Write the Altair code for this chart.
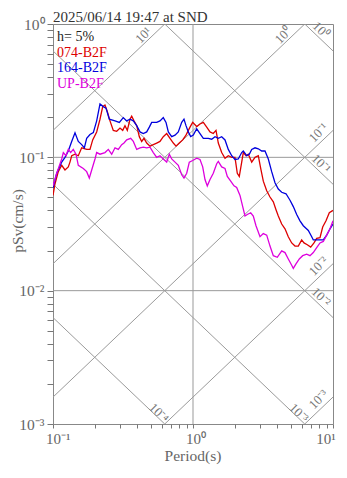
import math
import altair as alt
import pandas as pd

# ---------------- data ----------------
TITLE = "2025/06/14 19:47 at SND"
DAMPING = "h= 5%"
SERIES = ["074-B2F", "164-B2F", "UP-B2F"]
COLORS = ["#dd0000", "#0000dd", "#dd00dd"]

red_T = [0.100, 0.1033, 0.1091, 0.1154, 0.1218, 0.1286, 0.1322, 0.1360, 0.1436, 0.1516,
         0.1603, 0.1740, 0.1837, 0.1921, 0.2051, 0.2166, 0.2265, 0.2351, 0.2442, 0.2553,
         0.2696, 0.2851, 0.3010, 0.3147, 0.3267, 0.3394, 0.3548, 0.3648, 0.3790, 0.3962,
         0.4135, 0.4300, 0.4467, 0.4670, 0.4931, 0.5205, 0.5504, 0.5810, 0.6135, 0.6487,
         0.6851, 0.7234, 0.7561, 0.7982, 0.8442, 0.8913, 0.9519, 0.9951, 1.063, 1.122,
         1.185, 1.253, 1.323, 1.396, 1.460, 1.516, 1.603, 1.693, 1.787, 1.890,
         1.995, 2.072, 2.141, 2.228, 2.287, 2.391, 2.483, 2.626, 2.773, 2.927,
         3.045, 3.178, 3.361, 3.548, 3.747, 3.916, 4.067, 4.301, 4.541, 4.794,
         5.070, 5.354, 5.651, 5.975, 6.207, 6.553, 6.929, 7.316, 7.647, 8.075,
         8.441, 8.913, 9.410, 10.0]
red_Sv = [0.0518, 0.0631, 0.0781, 0.0872, 0.0804, 0.0848, 0.0921, 0.1028, 0.1056, 0.1028,
          0.1179, 0.1147, 0.1147, 0.1351, 0.1551, 0.1931, 0.2402, 0.2471, 0.2213, 0.1877,
          0.1593, 0.1567, 0.1657, 0.1593, 0.1729, 0.1593, 0.1931, 0.2038, 0.1877, 0.1729,
          0.1429, 0.1316, 0.1389, 0.1280, 0.1213, 0.1245, 0.1280, 0.1316, 0.1429, 0.1509,
          0.1389, 0.1280, 0.1213, 0.1280, 0.1351, 0.1467, 0.1684, 0.1829, 0.1701, 0.1778,
          0.1829, 0.1684, 0.1551, 0.1509, 0.1593, 0.1280, 0.1086, 0.0984, 0.1028, 0.1000,
          0.1000, 0.0760, 0.0720, 0.0921, 0.1086, 0.1028, 0.1056, 0.0921, 0.1000, 0.1028,
          0.0825, 0.0663, 0.0562, 0.0504, 0.0464, 0.0405, 0.0363, 0.0316, 0.0291, 0.0254,
          0.0228, 0.0216, 0.0216, 0.0240, 0.0228, 0.0221, 0.0212, 0.0228, 0.0247, 0.0250,
          0.0300, 0.0334, 0.0384, 0.0400]

blue_T = [0.100, 0.1063, 0.1154, 0.1218, 0.1286, 0.1360, 0.1436, 0.1516, 0.1603, 0.1674,
          0.1740, 0.1837, 0.1941, 0.2051, 0.2166, 0.2287, 0.2391, 0.2525, 0.2773, 0.2976,
          0.3178, 0.3361, 0.3548, 0.3747, 0.3962, 0.4182, 0.4416, 0.4670, 0.4875, 0.5070,
          0.5504, 0.5810, 0.6135, 0.6416, 0.6664, 0.7045, 0.7440, 0.7852, 0.8304, 0.8623,
          0.8913, 0.9256, 0.9629, 1.005, 1.063, 1.122, 1.185, 1.286, 1.360, 1.436,
          1.516, 1.603, 1.693, 1.787, 1.890, 1.995, 2.106, 2.228, 2.287, 2.419,
          2.524, 2.626, 2.773, 2.927, 3.095, 3.268, 3.451, 3.648, 3.852, 4.067,
          4.301, 4.617, 4.931, 5.205, 5.504, 5.810, 6.135, 6.664, 7.045, 7.233,
          7.852, 8.524, 9.016, 9.519, 10.0]
blue_Sv = [0.0591, 0.0760, 0.0921, 0.1000, 0.1116, 0.1316, 0.1527, 0.1316, 0.1245, 0.1179,
           0.1389, 0.1484, 0.1534, 0.1877, 0.2512, 0.2402, 0.2340, 0.1931, 0.1877, 0.1829,
           0.1985, 0.1877, 0.1931, 0.1877, 0.1729, 0.1551, 0.1509, 0.1551, 0.1684, 0.1829,
           0.1829, 0.1877, 0.1985, 0.1829, 0.1551, 0.1429, 0.1467, 0.1551, 0.1829, 0.1931,
           0.1729, 0.1551, 0.1429, 0.1467, 0.1638, 0.1509, 0.1389, 0.1389, 0.1367, 0.1429,
           0.1389, 0.1429, 0.1351, 0.1147, 0.1028, 0.0963, 0.0972, 0.1086, 0.1116, 0.1028,
           0.1056, 0.1147, 0.1179, 0.1159, 0.1116, 0.1116, 0.0972, 0.0781, 0.0645, 0.0578,
           0.0547, 0.0533, 0.0477, 0.0427, 0.0373, 0.0334, 0.0307, 0.0283, 0.0254, 0.0240,
           0.0240, 0.0240, 0.0261, 0.0291, 0.0316]

mag_T = [0.100, 0.1063, 0.1154, 0.1185, 0.1238, 0.1286, 0.1337, 0.1396, 0.1460, 0.1516,
         0.1646, 0.1740, 0.1817, 0.1890, 0.1995, 0.2051, 0.2166, 0.2351, 0.2483, 0.2626,
         0.2773, 0.2927, 0.3095, 0.3215, 0.3361, 0.3589, 0.3747, 0.3962, 0.4182, 0.4416,
         0.4670, 0.4931, 0.5205, 0.5504, 0.5810, 0.6135, 0.6487, 0.6773, 0.7045, 0.7440,
         0.7852, 0.8304, 0.8623, 0.9016, 0.9410, 0.9951, 1.063, 1.122, 1.173, 1.218,
         1.265, 1.323, 1.396, 1.477, 1.516, 1.603, 1.693, 1.758, 1.859, 1.963,
         2.051, 2.166, 2.265, 2.351, 2.443, 2.583, 2.696, 2.818, 3.010, 3.178,
         3.361, 3.548, 3.747, 4.000, 4.301, 4.541, 4.794, 5.070, 5.205, 5.441,
         5.745, 6.075, 6.487, 6.850, 7.233, 7.647, 8.075, 8.524, 9.016, 9.519, 10.0]
mag_Sv = [0.0611, 0.0760, 0.0972, 0.1086, 0.1028, 0.1147, 0.1086, 0.1147, 0.1056, 0.0872,
          0.0825, 0.0781, 0.0700, 0.0804, 0.0972, 0.1086, 0.1056, 0.1086, 0.1147, 0.1056,
          0.1179, 0.1147, 0.1245, 0.1280, 0.1351, 0.1389, 0.1316, 0.1147, 0.1179, 0.1193,
          0.1179, 0.1193, 0.1086, 0.1000, 0.1028, 0.0972, 0.0921, 0.1056, 0.0972, 0.0921,
          0.0872, 0.0740, 0.0700, 0.0760, 0.0921, 0.0947, 0.0984, 0.0963, 0.0848, 0.0682,
          0.0611, 0.0682, 0.0760, 0.0896, 0.0932, 0.0848, 0.0825, 0.0720, 0.0663, 0.0611,
          0.0594, 0.0518, 0.0427, 0.0363, 0.0373, 0.0384, 0.0363, 0.0307, 0.0254, 0.0268,
          0.0261, 0.0216, 0.0183, 0.0178, 0.0199, 0.0193, 0.0173, 0.0155, 0.0147, 0.0159,
          0.0173, 0.0183, 0.0188, 0.0183, 0.0193, 0.0210, 0.0228, 0.0234, 0.0261, 0.0291, 0.0334]

# tripartite guide lines: pseudo-acceleration and displacement levels
ACC_LEVELS = [10, 1, 0.1, 0.01, 0.001]
DISP_LEVELS = [1, 0.1, 0.01, 0.001, 0.0001]

X_DOMAIN = [0.1, 10]
Y_DOMAIN = [0.001, 1]
X_DECADES = [0.1, 1, 10]
Y_DECADES = [0.001, 0.01, 0.1, 1]
X_GRID = [1]
Y_GRID = [0.1, 0.01]

# ---------------- styling ----------------
W, H = 280, 400
FONT = "Liberation Serif"
GRID = "#999999"
DIAG = "#9a9a9a"
LABEL = "#666666"

SUP = str.maketrans("0123456789-", "⁰¹²³⁴⁵⁶⁷⁸⁹⁻")


def p10(v):
    e = int(round(math.log10(v)))
    return "10" + str(e).translate(SUP)


def minor_ticks(decades):
    vals = []
    for d in decades[:-1]:
        for m in range(1, 10):
            vals.append(round(m * d, 8))
    vals.append(decades[-1])
    return vals


def label_expr(decades):
    parts = [f"abs(datum.value - {v}) < {v / 1000} ? '{p10(v)}'" for v in decades]
    return " : ".join(parts) + " : ''"


xs = alt.Scale(type="log", domain=X_DOMAIN, nice=False)
ys = alt.Scale(type="log", domain=Y_DOMAIN, nice=False)

x_axis = alt.Axis(values=minor_ticks(X_DECADES), labelExpr=label_expr(X_DECADES), title=None,
                  grid=False, domain=False, tickSize=4, tickColor="#777777", tickWidth=1,
                  labelFont=FONT, labelFontSize=15, labelColor=LABEL, labelPadding=15,
                  labelBaseline="alphabetic",
                  labelAlign=alt.condition(f"datum.value > {X_DECADES[-1] * 0.99}",
                                           alt.value("center"), alt.value("left")),
                  labelOffset=-7.5,
                  labelOverlap=False, labelFlush=False, labelBound=False)
y_axis = alt.Axis(values=minor_ticks(Y_DECADES), labelExpr=label_expr(Y_DECADES), title=None,
                  grid=False, domain=False, tickSize=6, tickColor="#777777", tickWidth=1,
                  labelFont=FONT, labelFontSize=15.5, labelColor=LABEL, labelPadding=3,
                  labelBaseline="middle", labelOverlap=False, labelFlush=False, labelBound=False)


def X():
    return alt.X("T:Q", scale=xs, axis=x_axis)


def Y():
    return alt.Y("Sv:Q", scale=ys, axis=y_axis)


# ---------------- grid ----------------
vgrid = alt.Chart(pd.DataFrame({"T": X_GRID})).mark_rule(color=GRID, strokeWidth=1).encode(x=X())
hgrid = alt.Chart(pd.DataFrame({"Sv": Y_GRID})).mark_rule(color=GRID, strokeWidth=1).encode(y=Y())

# ---------------- tripartite diagonals ----------------
TWO_PI = 2 * math.pi
kx = W / (math.log10(X_DOMAIN[1]) - math.log10(X_DOMAIN[0]))
ky = H / (math.log10(Y_DOMAIN[1]) - math.log10(Y_DOMAIN[0]))
r2 = math.sqrt(2)

diag_rows, acc_lab, disp_lab = [], [], []
for i, A in enumerate(ACC_LEVELS):
    t0 = max(X_DOMAIN[0], Y_DOMAIN[0] * TWO_PI / A)
    t1 = min(X_DOMAIN[1], Y_DOMAIN[1] * TWO_PI / A)
    if t0 >= t1:
        continue
    for t in (t0, t1):
        diag_rows.append({"T": t, "Sv": A * t / TWO_PI, "id": f"a{i}"})
    top_exit = t1 < X_DOMAIN[1]
    s, p = (23, 7) if top_exit else (12, 8.5)
    u = math.log10(t1) * kx + (-s - p) / r2
    v = -math.log10(A * t1 / TWO_PI) * ky + (s - p) / r2
    acc_lab.append({"T": 10 ** (u / kx), "Sv": 10 ** (-v / ky), "txt": p10(A)})

for i, D in enumerate(DISP_LEVELS):
    t0 = max(X_DOMAIN[0], TWO_PI * D / Y_DOMAIN[1])
    t1 = min(X_DOMAIN[1], TWO_PI * D / Y_DOMAIN[0])
    if t0 >= t1:
        continue
    for t in (t0, t1):
        diag_rows.append({"T": t, "Sv": TWO_PI * D / t, "id": f"d{i}"})
    bottom_exit = t1 < X_DOMAIN[1]
    s, p = (12, 3.5) if bottom_exit else (23, 6)
    u = math.log10(t1) * kx + (-s + p) / r2
    v = -math.log10(TWO_PI * D / t1) * ky + (-s - p) / r2
    disp_lab.append({"T": 10 ** (u / kx), "Sv": 10 ** (-v / ky), "txt": p10(D)})

diag = alt.Chart(pd.DataFrame(diag_rows)).mark_line(color=DIAG, strokeWidth=1, clip=True).encode(
    x=X(), y=Y(), detail="id:N")

acc_text = alt.Chart(pd.DataFrame(acc_lab)).mark_text(
    font=FONT, fontSize=13, color="#777777", angle=315, align="center", baseline="middle").encode(
    x=X(), y=Y(), text="txt:N")
disp_text = alt.Chart(pd.DataFrame(disp_lab)).mark_text(
    font=FONT, fontSize=13, color="#777777", angle=45, align="center", baseline="middle").encode(
    x=X(), y=Y(), text="txt:N")

# ---------------- response spectra ----------------
frames = []
for name, T, S in zip(SERIES, [red_T, blue_T, mag_T], [red_Sv, blue_Sv, mag_Sv]):
    frames.append(pd.DataFrame({"T": T, "Sv": S, "series": name}))
spec = pd.concat(frames, ignore_index=True)

curves = alt.Chart(spec).mark_line(strokeWidth=1.3, clip=True).encode(
    x=X(), y=Y(),
    color=alt.Color("series:N", scale=alt.Scale(domain=SERIES, range=COLORS), legend=None),
    detail="series:N")


# ---------------- texts ----------------
def text_layer(txt, x, y, color, size=16, angle=0, align="left"):
    return alt.Chart(pd.DataFrame({"t": [txt]})).mark_text(
        font=FONT, fontSize=size, color=color, align=align, baseline="alphabetic", angle=angle
    ).encode(x=alt.value(x), y=alt.value(y), text="t:N")


texts = [text_layer(TITLE, 0, -2.5, "#333333", size=15)]
legend_items = [(DAMPING, "#222222")] + list(zip(SERIES, COLORS))
for i, (txt, col) in enumerate(legend_items):
    texts.append(text_layer(txt, 4, 17 + 15.5 * i, col, size=14))
texts.append(text_layer("Period(s)", W / 2, H + 37, LABEL, size=15.5, align="center"))
texts.append(text_layer("pSv(cm/s)", -30, H / 2 - 3, LABEL, size=15.5, angle=270, align="center"))

chart = alt.layer(vgrid, hgrid, diag, acc_text, disp_text, curves, *texts).properties(
    width=W, height=H,
    autosize=alt.AutoSizeParams(type="none"),
    padding={"left": 45, "top": 16, "right": 6, "bottom": 41},
).configure_view(stroke="#888888", strokeWidth=1)

chart.save("out.html", embed_options={"renderer": "svg", "actions": False})
